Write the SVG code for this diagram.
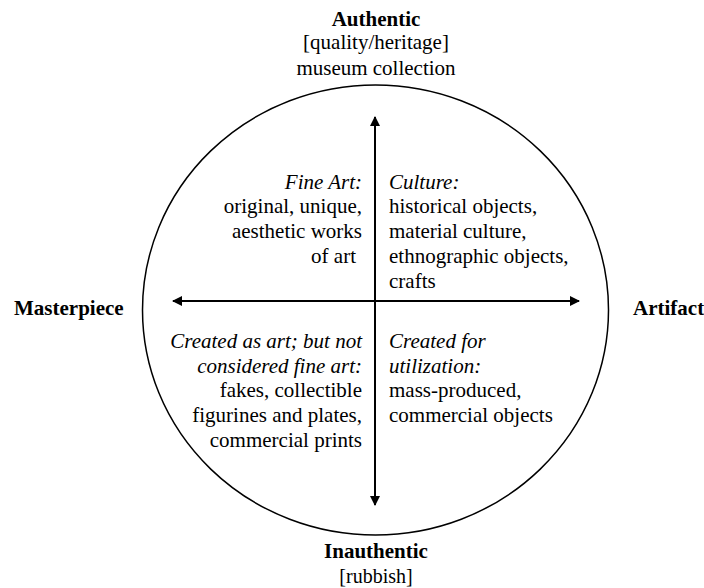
<svg xmlns="http://www.w3.org/2000/svg" width="704" height="588" viewBox="0 0 704 588">
<style>
text{font-family:"Liberation Serif","Times New Roman",serif;font-size:21px;fill:#000}
.b{font-weight:bold}
.i{font-style:italic}
.m{text-anchor:middle}
.r{text-anchor:end}
.s{font-size:20px}
.ax{stroke:#000;stroke-width:2;fill:none}
</style>
<defs>
<marker id="ah" viewBox="0 0 10 10" refX="9" refY="5" markerWidth="5" markerHeight="5" orient="auto-start-reverse" markerUnits="strokeWidth">
<path d="M0,0 L10,5 L0,10 z" fill="#000"/>
</marker>
</defs>
<rect width="704" height="588" fill="#fff"/>
<g id="circle"><ellipse cx="375.5" cy="310" rx="233" ry="225" fill="none" stroke="#000" stroke-width="1.5"/></g>
<g id="connectors">
<line class="ax" x1="375" y1="505" x2="375" y2="117" marker-end="url(#ah)" marker-start="url(#ah)"/>
<line class="ax" x1="173" y1="301" x2="579" y2="301" marker-end="url(#ah)" marker-start="url(#ah)"/>
</g>
<g id="top"><text class="b m" x="376" y="26">Authentic</text><text class="m" x="376" y="49">[quality/heritage]</text><text class="m" x="376" y="75">museum collection</text></g>
<g id="bottom"><text class="b m" x="376" y="558">Inauthentic</text><text class="m s" x="376" y="583">[rubbish]</text></g>
<g id="left"><text class="b" x="14" y="315">Masterpiece</text></g>
<g id="right"><text class="b" x="633" y="315">Artifact</text></g>
<g id="q1"><text class="i r" x="362" y="189">Fine Art:</text><text class="r" x="362" y="213">original, unique,</text><text class="r" x="362" y="238">aesthetic works</text><text class="r" x="356" y="263">of art</text></g>
<g id="q2"><text class="i" x="389" y="189">Culture:</text><text x="389" y="213">historical objects,</text><text x="389" y="238">material culture,</text><text x="389" y="263">ethnographic objects,</text><text x="389" y="288">crafts</text></g>
<g id="q3"><text class="i r" x="362" y="348">Created as art; but not</text><text class="i r" x="362" y="373">considered fine art:</text><text class="r" x="362" y="397">fakes, collectible</text><text class="r" x="362" y="422">figurines and plates,</text><text class="r" x="362" y="447">commercial prints</text></g>
<g id="q4"><text class="i" x="389" y="348">Created for</text><text class="i" x="389" y="373">utilization:</text><text x="389" y="397">mass-produced,</text><text x="389" y="422">commercial objects</text></g>
</svg>
